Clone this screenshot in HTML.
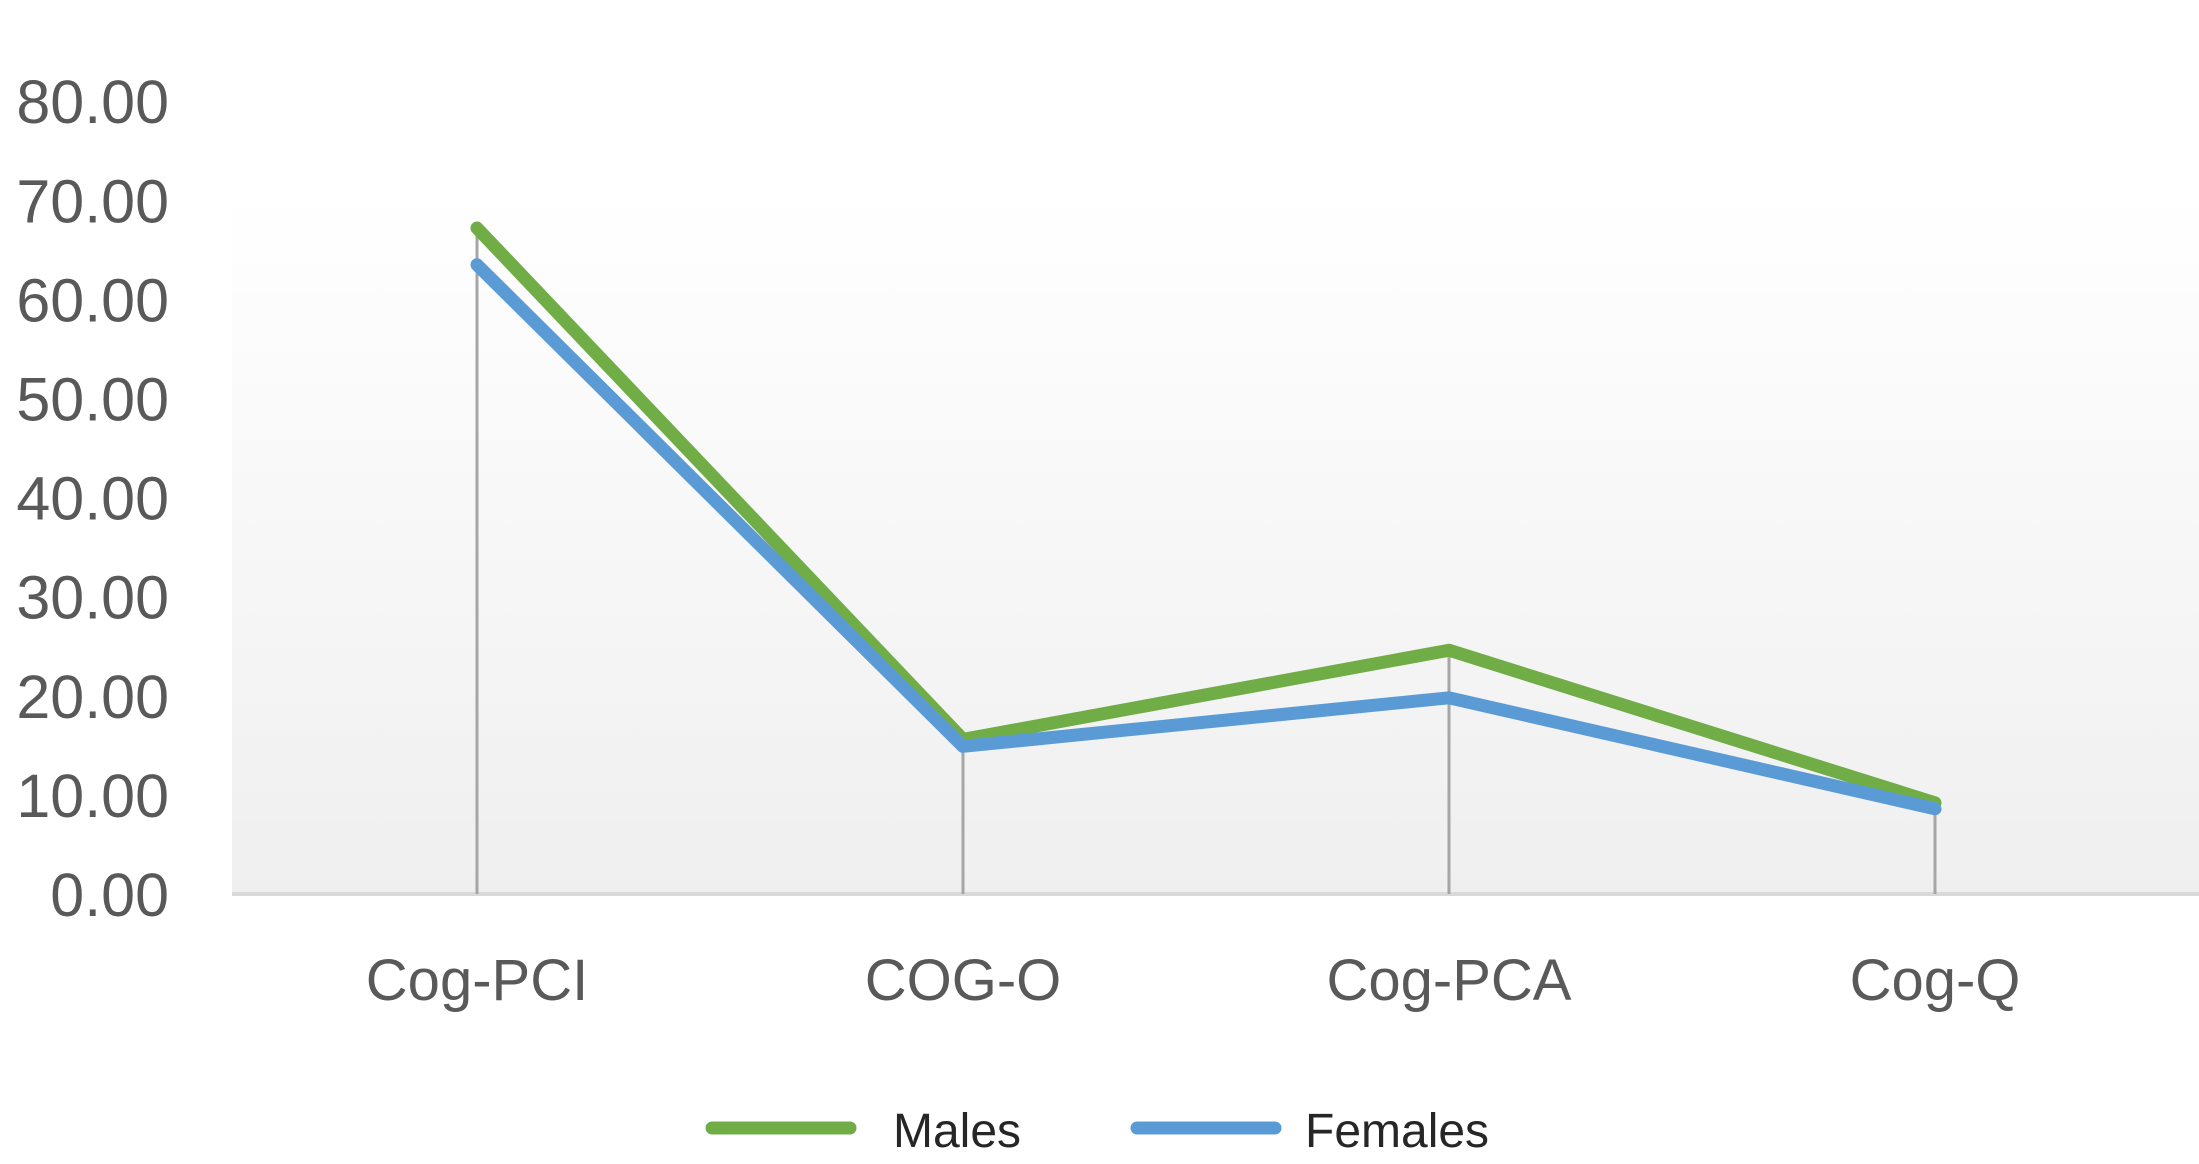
<!DOCTYPE html>
<html><head><meta charset="utf-8"><style>
html,body{margin:0;padding:0;background:#fff;}
svg{display:block;font-family:"Liberation Sans",sans-serif;}
</style></head><body>
<svg id="chart" width="2199" height="1164" viewBox="0 0 2199 1164">
<defs><linearGradient id="bg" x1="0" y1="0" x2="0" y2="1"><stop offset="0" stop-color="#ffffff"/><stop offset="1" stop-color="#efefef"/></linearGradient></defs>
<rect x="232" y="190" width="1967" height="704" fill="url(#bg)"/>
<g id="yaxis"></g>
<g id="xaxis"></g>
<g id="drops"></g>
<g id="series"></g>
<g id="legend"></g>
</svg>
<script>
const categories = ["Cog-PCI","COG-O","Cog-PCA","Cog-Q"];
const males = [67.2, 15.6, 24.6, 9.2];
const females = [63.5, 14.9, 19.8, 8.6];
const yTicks = [0,10,20,30,40,50,60,70,80];
const seriesNames = ["Males","Females"];

const NS="http://www.w3.org/2000/svg";
const svg=document.getElementById('chart');
const x0=477, dx=486, yBase=894, pxPer=9.91;
function xs(i){return x0+i*dx;}
function ys(v){return yBase-v*pxPer;}
function mk(tag,attrs,parent){const e=document.createElementNS(NS,tag);for(const k in attrs)e.setAttribute(k,attrs[k]);parent.appendChild(e);return e;}

const ya=document.getElementById('yaxis');
yTicks.forEach(t=>{
  const tx=mk('text',{x:169,y:ys(t)+22,'text-anchor':'end','font-size':61,fill:'#595959'},ya);
  tx.textContent=t.toFixed(2);
  
  
});
const xa=document.getElementById('xaxis');
const base=mk('line',{x1:232,x2:2199,y1:yBase,y2:yBase,stroke:'#d9d9d9','stroke-width':4},xa);


categories.forEach((c,i)=>{
  const tx=mk('text',{x:xs(i),y:1000,'text-anchor':'middle','font-size':58,fill:'#595959'},xa);
  tx.textContent=c;
  
  
});
const dr=document.getElementById('drops');
categories.forEach((c,i)=>{
  const l=mk('line',{x1:xs(i),x2:xs(i),y1:ys(Math.max(males[i],females[i])),y2:yBase,stroke:'#a6a6a6','stroke-width':3},dr);
  
  
});
const sg=document.getElementById('series');
[[males,'#70ad47','males-line'],[females,'#5b9bd5','females-line']].forEach(([d,col,nm])=>{
  const p=mk('polyline',{points:d.map((v,i)=>xs(i)+','+ys(v)).join(' '),fill:'none',stroke:col,'stroke-width':13,'stroke-linejoin':'round','stroke-linecap':'round'},sg);
  
  
});
const lg=document.getElementById('legend');
[[712,893,'#70ad47'],[1137,1305,'#5b9bd5']].forEach(([sx,tx,col],i)=>{
  const s=mk('line',{x1:sx,x2:sx+138,y1:1128,y2:1128,stroke:col,'stroke-width':13,'stroke-linecap':'round'},lg);
  
  
  const t=mk('text',{x:tx,y:1147,'font-size':48,fill:'#262626'},lg);
  t.textContent=seriesNames[i];
  
  
});
</script>
</body></html>
